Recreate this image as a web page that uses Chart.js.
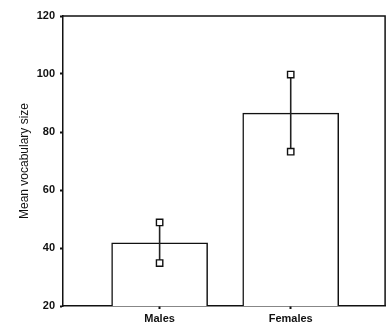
<!DOCTYPE html>
<html>
<head>
<meta charset="utf-8">
<script src="https://cdn.jsdelivr.net/npm/chart.js@4"></script>
<style>
  html, body { margin: 0; padding: 0; background: #fff; }
  #wrap { width: 391px; height: 327px; }
</style>
</head>
<body>
<div id="wrap"><canvas id="chart"></canvas></div>
<script>
// --- Data ---
const categories = ["Males", "Females"];
const means = [41.8, 86.5];
const errLow = [34.8, 73.2];
const errHigh = [48.8, 99.8];
const yTicks = [20, 40, 60, 80, 100, 120];

const xPos = categories.map((c, i) => i + 1);

// bars
const barData = xPos.map((x, i) => ({ x: x, y: means[i] }));

// one line dataset per error bar
const errSets = xPos.map((x, i) => ({
    type: "line",
    data: [{ x: x, y: errLow[i] }, { x: x, y: errHigh[i] }],
    borderColor: "#222",
    borderWidth: 1.6,
    pointStyle: "rect",
    pointRadius: 4.5,
    pointBackgroundColor: "#fff",
    pointBorderColor: "#111",
    pointBorderWidth: 1.4,
    order: 0
}));

// top + right frame lines
const frame = {
    id: "frame",
    afterDatasetsDraw(chart) {
        const a = chart.chartArea;
        const ctx = chart.ctx;
        ctx.save();
        ctx.strokeStyle = "#111";
        ctx.lineWidth = 1.5;
        ctx.beginPath();
        ctx.moveTo(a.left, a.top);
        ctx.lineTo(a.right, a.top);
        ctx.lineTo(a.right, a.bottom);
        ctx.stroke();
        ctx.restore();
    }
};

const tickFont = { family: "Liberation Sans", size: 11, weight: "bold" };

new Chart(document.getElementById("chart"), {
    type: "bar",
    data: {
        datasets: [
            {
                data: barData,
                backgroundColor: "#fff",
                borderColor: "#111",
                borderWidth: 1.5,
                borderSkipped: "bottom",
                barThickness: 96,
                order: 1
            },
            ...errSets
        ]
    },
    options: {
        responsive: true,
        maintainAspectRatio: false,
        animation: false,
        layout: { padding: { top: 16, right: 1, left: 0, bottom: 0 } },
        plugins: { legend: { display: false }, tooltip: { enabled: false } },
        scales: {
            x: {
                type: "linear",
                offset: false,
                min: 0.263,
                max: 2.72,
                afterBuildTicks: (s) => { s.ticks = xPos.map(v => ({ value: v })); },
                afterFit: (s) => { s.height = 21; },
                ticks: {
                    color: "#111",
                    font: tickFont,
                    padding: 3,
                    callback: (v) => categories[v - 1]
                },
                grid: { offset: false, drawOnChartArea: false, tickLength: 3, tickWidth: 2, color: "#111" },
                border: { color: "#111", width: 1.5 }
            },
            y: {
                min: 20,
                max: 120,
                afterBuildTicks: (s) => { s.ticks = yTicks.map(v => ({ value: v })); },
                afterFit: (s) => { s.width = 63; },
                ticks: { color: "#111", font: tickFont, padding: 5 },
                grid: { drawOnChartArea: false, tickLength: 3, tickWidth: 2, color: "#111" },
                border: { color: "#111", width: 1.5 },
                title: {
                    display: true,
                    text: "Mean vocabulary size",
                    color: "#111",
                    font: { family: "Liberation Sans", size: 12 },
                    padding: { top: 17, bottom: 0 }
                }
            }
        }
    },
    plugins: [frame]
});
</script>
</body>
</html>
